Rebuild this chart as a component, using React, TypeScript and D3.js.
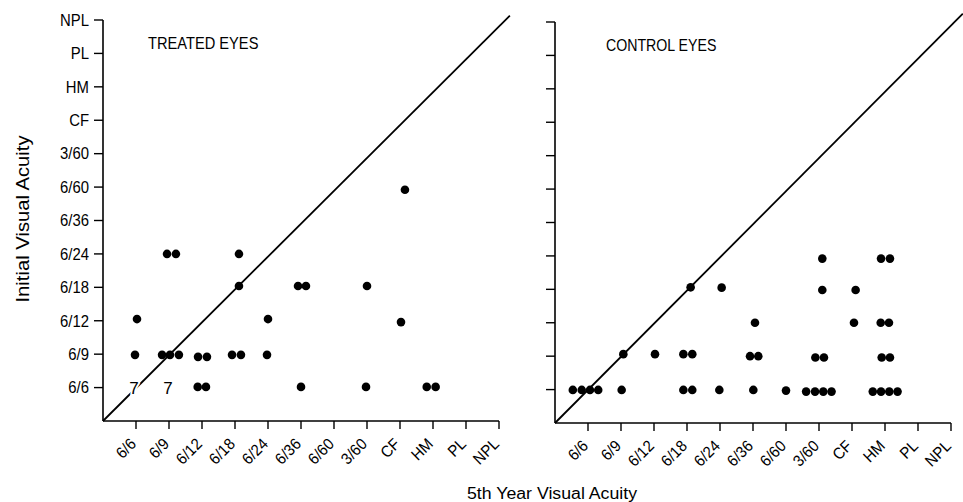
import React from "react";
import * as d3 from "d3";

// Visual acuity scale, from best (6/6) to worst (NPL); position 0 is the axis origin.
const acuityLevels = ["6/6", "6/9", "6/12", "6/18", "6/24", "6/36", "6/60", "3/60", "CF", "HM", "PL", "NPL"];

// [5th-year acuity position, initial acuity position]; fractional offsets separate coincident eyes.
const treatedPoints: [number, number][] = [
  [1.94, 5.0], [2.21, 5.0], [4.12, 5.0],
  [4.12, 4.04], [5.91, 4.04], [6.15, 4.04], [8.0, 4.04],
  [1.03, 3.05], [5.0, 3.05], [9.03, 2.96],
  [9.15, 6.92],
  [0.97, 1.98], [1.79, 1.98], [2.03, 1.98], [2.3, 1.98], [2.88, 1.92], [3.15, 1.92],
  [3.91, 1.98], [4.18, 1.98], [4.97, 1.98],
  [2.87, 1.02], [3.12, 1.02], [6.0, 1.02], [7.97, 1.02], [9.81, 1.02], [10.08, 1.02],
];

// Grouped counts drawn as numerals instead of dots.
const treatedCounts: { x: number; y: number; n: number }[] = [
  { x: 0.94, y: 0.98, n: 7 },
  { x: 1.97, y: 0.98, n: 7 },
];

const controlPoints: [number, number][] = [
  [0.54, 0.99], [0.81, 0.99], [1.06, 0.99], [1.31, 0.99], [2.02, 0.99],
  [3.89, 0.99], [4.16, 0.99], [4.98, 0.99], [6.01, 0.99], [7.0, 0.97],
  [7.61, 0.94], [7.88, 0.94], [8.13, 0.94], [8.38, 0.94],
  [9.63, 0.94], [9.88, 0.94], [10.13, 0.94], [10.38, 0.94],
  [2.07, 2.06], [3.03, 2.06], [3.89, 2.06], [4.16, 2.06],
  [5.91, 2.0], [6.16, 2.0], [7.89, 1.96], [8.15, 1.96], [9.9, 1.96], [10.15, 1.96],
  [6.06, 3.0], [9.06, 3.0], [9.87, 3.0], [10.12, 3.0],
  [4.11, 4.06], [5.05, 4.05], [8.1, 3.98], [9.11, 3.98],
  [8.1, 4.92], [9.88, 4.92], [10.15, 4.92],
];

// Line of no change, running past the top of each panel.
const treatedDiagonal: [number, number][] = [[0, 0], [12.33, 12.13]];
const controlDiagonal: [number, number][] = [[0, 0], [12.36, 12.25]];

const FONT = "'Liberation Sans', Arial, sans-serif";
// Slightly narrowed lettering for tick labels.
const NARROW = 0.93;

type PanelProps = {
  title: string;
  titleX: number;
  titleY: number;
  x0: number;
  x1: number;
  y0: number;
  y1: number;
  points: [number, number][];
  diagonal: [number, number][];
  counts?: { x: number; y: number; n: number }[];
  showYLabels: boolean;
};

function Panel({ title, titleX, titleY, x0, x1, y0, y1, points, diagonal, counts, showYLabels }: PanelProps) {
  const x = d3.scaleLinear().domain([0, 12]).range([x0, x1]);
  const y = d3.scaleLinear().domain([0, 12]).range([y0, y1]);
  const line = d3.line<[number, number]>().x((d) => x(d[0])).y((d) => y(d[1]));
  const ticks = acuityLevels.map((label, i) => ({ label, v: i + 1 }));

  return (
    <g>
      {/* axes */}
      <line x1={x(0)} y1={y(0)} x2={x(0)} y2={y(12)} stroke="#000" strokeWidth={1.6} />
      <line x1={x(0)} y1={y(0)} x2={x(12)} y2={y(0)} stroke="#000" strokeWidth={1.6} />
      {ticks.map((t) => (
        <g key={"y" + t.label}>
          <line x1={x(0) - 9} x2={x(0)} y1={y(t.v)} y2={y(t.v)} stroke="#000" strokeWidth={1.4} />
          {showYLabels && (
            <text
              transform={`translate(${x(0) - 14},${y(t.v)}) scale(${NARROW},1)`}
              dy="0.36em"
              textAnchor="end"
              fontSize={16}
              fontFamily={FONT}
            >
              {t.label}
            </text>
          )}
        </g>
      ))}
      {ticks.map((t) => (
        <g key={"x" + t.label}>
          <line x1={x(t.v)} x2={x(t.v)} y1={y(0)} y2={y(0) + 8} stroke="#000" strokeWidth={1.4} />
          <text
            transform={`translate(${x(t.v) + 1},${y(0) + 24}) rotate(-45) scale(${NARROW},1)`}
            textAnchor="end"
            fontSize={16}
            fontFamily={FONT}
          >
            {t.label}
          </text>
        </g>
      ))}

      {/* line of equal acuity */}
      <path d={line(diagonal) ?? ""} fill="none" stroke="#000" strokeWidth={1.8} />

      {/* eyes */}
      {points.map((p, i) => (
        <circle key={i} cx={x(p[0])} cy={y(p[1])} r={4.3} fill="#000" />
      ))}
      {(counts ?? []).map((c, i) => (
        <text
          key={"c" + i}
          x={x(c.x)}
          y={y(c.y)}
          dy="0.36em"
          textAnchor="middle"
          fontSize={17}
          fontFamily={FONT}
          stroke="#fff"
          strokeWidth={4}
          paintOrder="stroke"
        >
          {c.n}
        </text>
      ))}

      <text
        x={titleX}
        y={titleY}
        fontSize={17}
        fontFamily={FONT}
        textLength={title.length * 9.2}
        lengthAdjust="spacingAndGlyphs"
      >
        {title}
      </text>
    </g>
  );
}

export default function App() {
  return (
    <svg
      width={963}
      height={502}
      viewBox="0 0 963 502"
      style={{ position: "absolute", left: 0, top: 0, background: "#fff" }}
    >
      <rect width={963} height={502} fill="#fff" />
      <Panel
        title="TREATED EYES"
        titleX={148}
        titleY={49}
        x0={103}
        x1={499}
        y0={421}
        y1={20}
        points={treatedPoints}
        diagonal={treatedDiagonal}
        counts={treatedCounts}
        showYLabels
      />
      <Panel
        title="CONTROL EYES"
        titleX={606}
        titleY={51}
        x0={555}
        x1={951}
        y0={423}
        y1={22}
        points={controlPoints}
        diagonal={controlDiagonal}
        showYLabels={false}
      />
      <text
        transform="translate(29,219) rotate(-90)"
        textAnchor="middle"
        fontSize={19}
        fontFamily={FONT}
        textLength={167}
        lengthAdjust="spacingAndGlyphs"
      >
        Initial Visual Acuity
      </text>
      <text
        x={552}
        y={499}
        textAnchor="middle"
        fontSize={16}
        fontFamily={FONT}
        textLength={170}
        lengthAdjust="spacingAndGlyphs"
      >
        5th Year Visual Acuity
      </text>
    </svg>
  );
}
